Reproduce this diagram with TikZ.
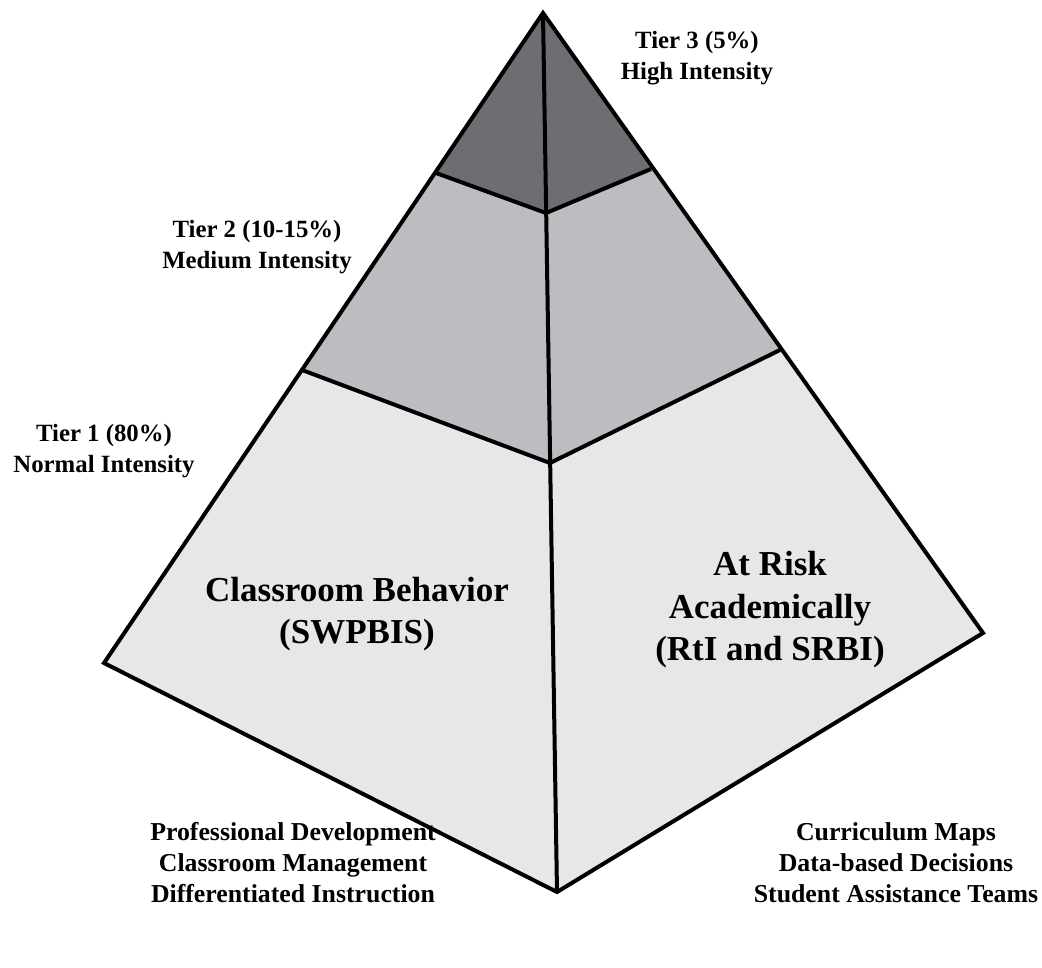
\documentclass[tikz,border=0pt]{standalone}
\usepackage{fontspec}
\setmainfont{Liberation Serif}
\usetikzlibrary{positioning}
\tikzset{edge/.style = {draw, line width = 4pt, line join = miter}}
\tikzset{tierlabel/.style = {align = center, font = \fontsize{24.8}{30.5}\selectfont\bfseries}}
\tikzset{biglabel/.style = {align = center, font = \fontsize{35}{42.5}\selectfont\bfseries}}
\tikzset{baselabel/.style = {align = center, font = \fontsize{25.8}{31}\selectfont\bfseries}}
\definecolor{tdark}{HTML}{6D6E71}
\definecolor{tmid}{HTML}{BCBDC0}
\definecolor{tlight}{HTML}{E6E7E8}

\begin{document}
\begin{tikzpicture}[x = 1pt, y = -1pt]
      \useasboundingbox (0, 0) rectangle (1042, 968);

      \coordinate (apex) at (543, 13);
      \coordinate (t3l) at (436, 173);
      \coordinate (t3c) at (546, 213);
      \coordinate (t3r) at (651, 169);
      \coordinate (t2l) at (302, 370);
      \coordinate (t2c) at (550, 463);
      \coordinate (t2r) at (780, 350);
      \coordinate (bl) at (104, 663);
      \coordinate (bc) at (557, 892);
      \coordinate (br) at (983, 633);

      % faces
      \fill [tlight] (t2l) -- (bl) -- (bc) -- (br) -- (t2r) -- (t2c) -- cycle;
      \fill [tmid] (t3l) -- (t2l) -- (t2c) -- (t2r) -- (t3r) -- (t3c) -- cycle;
      \fill [tdark] (apex) -- (t3l) -- (t3c) -- (t3r) -- cycle;

      % edges
      \draw [edge] (apex) -- (bl) -- (bc) -- (br) -- cycle;
      \draw [edge] (apex) -- (bc);
      \draw [edge] (t3l) -- (t3c) -- (t3r);
      \draw [edge] (t2l) -- (t2c) -- (t2r);

      \node [tierlabel] (tier3) at (697, 58) {Tier 3 (5\%)\\High Intensity};
      \node [tierlabel] (tier2) at (257, 247) {Tier 2 (10-15\%)\\Medium Intensity};
      \node [tierlabel] (tier1) at (104, 451) {Tier 1 (80\%)\\Normal Intensity};

      \node [biglabel] (behavior) at (357, 614) {Classroom Behavior\\(SWPBIS)};
      \node [biglabel] (academic) at (770, 610) {At Risk\\Academically\\(RtI and SRBI)};

      \node [baselabel] (leftbase) at (293, 863) {Professional Development\\Classroom Management\\Differentiated Instruction};
      \node [baselabel] (rightbase) at (896, 863) {Curriculum Maps\\Data-based Decisions\\Student Assistance Teams};
    \end{tikzpicture}
\end{document}
